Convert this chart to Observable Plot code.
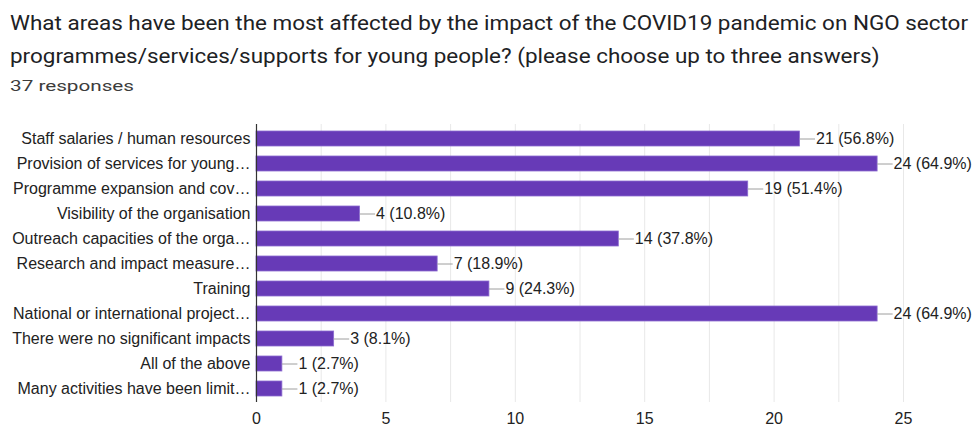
<!DOCTYPE html>
<html>
<head>
<meta charset="utf-8">
<script src="https://cdn.jsdelivr.net/npm/d3@7"></script>
<script src="https://cdn.jsdelivr.net/npm/@observablehq/plot@0.6"></script>
<style>
  body { margin: 0; background: #fff; font-family: Roboto, "Noto Sans", sans-serif; }
  .line { position: absolute; left: 10px; font-size: 20px; color: #202124; white-space: nowrap; transform-origin: 0 50%; }
  #t1 { top: 11px; }
  #t2 { top: 44px; }
  #sub { position: absolute; left: 10px; top: 77px; font-size: 15px; color: #3c3c3c; white-space: nowrap; transform-origin: 0 50%; }
  #chart { position: absolute; left: 0; top: 100px; }
</style>
</head>
<body>
<div id="t1" class="line">What areas have been the most affected by the impact of the COVID19 pandemic on NGO sector</div>
<div id="t2" class="line">programmes/services/supports for young people? (please choose up to three answers)</div>
<div id="sub">37 responses</div>
<div id="chart"></div>
<script>
const categories = [
  "Staff salaries / human resources",
  "Provision of services for young…",
  "Programme expansion and cov…",
  "Visibility of the organisation",
  "Outreach capacities of the orga…",
  "Research and impact measure…",
  "Training",
  "National or international project…",
  "There were no significant impacts",
  "All of the above",
  "Many activities have been limit…"
];
const counts = [21, 24, 19, 4, 14, 7, 9, 24, 3, 1, 1];
const percents = ["56.8%", "64.9%", "51.4%", "10.8%", "37.8%", "18.9%", "24.3%", "64.9%", "8.1%", "2.7%", "2.7%"];
const xTicks = [0, 5, 10, 15, 20, 25];
const gridLines = [0, 2.5, 5, 7.5, 10, 12.5, 15, 17.5, 20, 22.5, 25];

const data = categories.map((c, i) => ({cat: c, value: counts[i], label: `${counts[i]} (${percents[i]})`}));

// horizontal stretch of the header text to match the reference's wide lettering
const t1 = document.getElementById("t1");
const s1 = 958 / t1.getBoundingClientRect().width;
t1.style.transform = `scaleX(${s1})`;
document.getElementById("t2").style.transform = `scaleX(${s1})`;
const sub = document.getElementById("sub");
sub.style.transform = `scaleX(${124 / sub.getBoundingClientRect().width})`;

const chart = Plot.plot({
  width: 973,
  height: 328,
  marginLeft: 256,
  marginRight: 70,
  marginTop: 24,
  marginBottom: 26,
  style: {fontFamily: "'Liberation Sans', Arial, sans-serif", fontSize: "16px", color: "#222"},
  x: {domain: [0, 25], ticks: xTicks, tickSize: 0, tickPadding: 10, label: null},
  y: {domain: categories, paddingInner: 0.42, paddingOuter: 0.2, tickSize: 0, tickPadding: 6, label: null},
  marks: [
    Plot.ruleX(gridLines, {x: d => d, stroke: "#e8e8e8", strokeWidth: 1}),
    Plot.barX(data, {y: "cat", x: "value", fill: "#673ab7", stroke: "#8c6bd0", strokeWidth: 0.8}),
    Plot.ruleY(data, {y: "cat", x1: "value", x2: d => d.value + 0.6, stroke: "#9e9e9e", strokeWidth: 1}),
    Plot.text(data, {y: "cat", x: "value", text: "label", dx: 16, textAnchor: "start", fill: "#222", fontSize: 16}),
    Plot.ruleX([0], {stroke: "#333", strokeWidth: 1.2})
  ]
});
chart.querySelectorAll("g[aria-label='x-axis tick label'] text, g[aria-label='y-axis tick label'] text").forEach(t => t.setAttribute("fill", "#222"));
document.getElementById("chart").appendChild(chart);
</script>
</body>
</html>
